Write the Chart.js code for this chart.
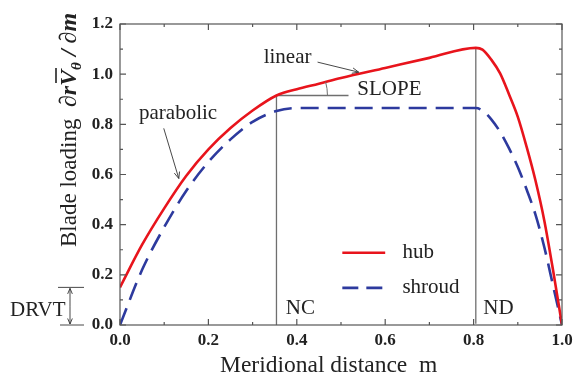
<!DOCTYPE html>
<html>
<head>
<meta charset="utf-8">
<script src="https://cdn.jsdelivr.net/npm/chart.js@4/dist/chart.umd.min.js"></script>
<style>
  html, body { margin: 0; padding: 0; background: #fff; }
  canvas { display: block; }
</style>
</head>
<body>
<canvas id="chart" width="574" height="378"></canvas>
<script>
// hub loading (red, solid)
const mHub = [0, 0.05, 0.1, 0.15, 0.2, 0.25, 0.3, 0.354, 0.4, 0.45, 0.5, 0.6, 0.7, 0.805,
              0.82, 0.84, 0.86, 0.88, 0.9, 0.92, 0.94, 0.96, 0.98, 1.0];
const hubLoad = [0.15, 0.32, 0.465, 0.595, 0.70, 0.785, 0.855, 0.915, 0.94, 0.962, 0.985, 1.025, 1.065, 1.105,
                 1.098, 1.058, 1.003, 0.92, 0.83, 0.71, 0.576, 0.416, 0.216, 0.0];

// shroud loading (blue, dashed)
const mShroud = [0, 0.05, 0.1, 0.15, 0.2, 0.25, 0.3, 0.354, 0.4, 0.5, 0.6, 0.7, 0.805,
                 0.82, 0.84, 0.86, 0.88, 0.9, 0.92, 0.94, 0.96, 0.98, 1.0];
const shroudLoad = [0, 0.22, 0.39, 0.535, 0.65, 0.74, 0.81, 0.853, 0.865, 0.865, 0.865, 0.865, 0.865,
                    0.855, 0.82, 0.77, 0.705, 0.63, 0.54, 0.44, 0.31, 0.155, 0.0];

// marker positions
const NC = 0.354;
const ND = 0.805;
const slopeEnd = 0.517;
const DRVT = 0.15;

const xRange = [0, 1.0];
const yRange = [0, 1.2];

const SERIF = '"Liberation Serif", "Times New Roman", serif';
const RED = '#e8141c';
const BLUE = '#2d3a9e';
const GRAY = '#6f6f6f';
const AXIS = '#555555';

function pts(xs, ys) {
  return xs.map((x, i) => ({ x: x, y: ys[i] }));
}

function arrow(ctx, x1, y1, x2, y2, head) {
  const a = Math.atan2(y2 - y1, x2 - x1);
  ctx.beginPath();
  ctx.moveTo(x1, y1);
  ctx.lineTo(x2, y2);
  ctx.moveTo(x2 - head * Math.cos(a - 0.4), y2 - head * Math.sin(a - 0.4));
  ctx.lineTo(x2, y2);
  ctx.lineTo(x2 - head * Math.cos(a + 0.4), y2 - head * Math.sin(a + 0.4));
  ctx.stroke();
}

// frame, inward ticks, annotations, legend, axis titles
const decor = {
  id: 'decor',
  afterDraw(chart) {
    const ctx = chart.ctx;
    const xs = chart.scales.x;
    const ys = chart.scales.y;
    const a = chart.chartArea;
    const X = v => xs.getPixelForValue(v);
    const Y = v => ys.getPixelForValue(v);

    ctx.save();
    // frame
    ctx.strokeStyle = AXIS;
    ctx.lineWidth = 1.2;
    ctx.strokeRect(a.left, a.top, a.right - a.left, a.bottom - a.top);

    // ticks
    ctx.beginPath();
    for (let i = 0; i <= 10; i++) {
      const v = i / 10;
      const len = i % 2 === 0 ? 6 : 3;
      const px = X(v);
      ctx.moveTo(px, a.bottom); ctx.lineTo(px, a.bottom - len);
      ctx.moveTo(px, a.top); ctx.lineTo(px, a.top + len);
    }
    for (let i = 0; i <= 12; i++) {
      const v = i / 10;
      const len = i % 2 === 0 ? 6 : 3;
      const py = Y(v);
      ctx.moveTo(a.left, py); ctx.lineTo(a.left + len, py);
      ctx.moveTo(a.right, py); ctx.lineTo(a.right - len, py);
    }
    ctx.stroke();

    // slope arc
    ctx.strokeStyle = GRAY;
    ctx.lineWidth = 1;
    const cx = X(NC), cy = Y(hubLoad[7]);
    const ang = Math.atan2(Y(hubLoad[7]) - Y(hubLoad[9]), X(mHub[9]) - X(NC));
    ctx.beginPath();
    ctx.arc(cx, cy, 51, -ang, 0);
    ctx.stroke();

    // arrows
    ctx.strokeStyle = '#333';
    ctx.lineWidth = 0.9;
    arrow(ctx, X(0.447), Y(1.048), X(0.540), Y(1.008), 7);
    arrow(ctx, X(0.099), Y(0.784), X(0.133), Y(0.584), 7);

    // DRVT dimension
    const dx = 70;
    ctx.beginPath();
    ctx.moveTo(58, Y(DRVT)); ctx.lineTo(84, Y(DRVT));
    ctx.moveTo(60, Y(0)); ctx.lineTo(84, Y(0));
    ctx.stroke();
    arrow(ctx, dx, (Y(DRVT) + Y(0)) / 2, dx, Y(DRVT) + 1, 6);
    arrow(ctx, dx, (Y(DRVT) + Y(0)) / 2, dx, Y(0) - 1, 6);

    // texts
    ctx.fillStyle = '#222';
    ctx.font = '21px ' + SERIF;
    ctx.textBaseline = 'middle';
    ctx.textAlign = 'left';
    ctx.fillText('linear', X(0.325), Y(1.068));
    ctx.fillText('SLOPE', X(0.537), Y(0.94));
    ctx.fillText('parabolic', X(0.043), Y(0.844));
    ctx.fillText('NC', X(0.375), Y(0.064));
    ctx.fillText('ND', X(0.822), Y(0.064));
    ctx.fillText('DRVT', 10, 310);

    // legend
    const lx0 = X(0.503), lx1 = X(0.60), tx = X(0.639);
    chart.data.datasets.slice(0, 2).forEach((ds, i) => {
      const ly = Y(i === 0 ? 0.288 : 0.148);
      ctx.strokeStyle = ds.borderColor;
      ctx.lineWidth = ds.borderWidth;
      ctx.setLineDash(i === 0 ? [] : [16, 8]);
      ctx.beginPath();
      ctx.moveTo(lx0, ly); ctx.lineTo(lx1, ly);
      ctx.stroke();
      ctx.setLineDash([]);
      ctx.fillText(ds.label, tx, ly);
    });

    // x axis title
    ctx.font = '23.5px ' + SERIF;
    ctx.textBaseline = 'alphabetic';
    ctx.fillText('Meridional distance  m', 220, 372);

    // y axis title
    ctx.translate(76, 247);
    ctx.rotate(-Math.PI / 2);
    let x = 0;
    const seg = (t, font, dy) => {
      ctx.font = font;
      ctx.fillText(t, x, dy || 0);
      const w = ctx.measureText(t).width;
      x += w;
      return w;
    };
    seg('Blade loading  ', '23px ' + SERIF);
    const bi = 'italic bold 24px ' + SERIF;
    seg('\u2202r', bi);
    const vx = x;
    const vw = seg('V', bi);
    ctx.lineWidth = 1.6;
    ctx.strokeStyle = '#222';
    ctx.beginPath();
    ctx.moveTo(vx + 3, -20); ctx.lineTo(vx + vw + 2, -20);
    ctx.stroke();
    seg('\u03b8', 'italic bold 15px ' + SERIF, 5);
    seg(' / \u2202m', bi);
    ctx.restore();
  }
};

new Chart(document.getElementById('chart'), {
  type: 'line',
  data: {
    datasets: [
      {
        label: 'hub',
        data: pts(mHub, hubLoad),
        borderColor: RED,
        borderWidth: 2.6,
        pointRadius: 0,
        cubicInterpolationMode: 'monotone'
      },
      {
        label: 'shroud',
        data: pts(mShroud, shroudLoad),
        borderColor: BLUE,
        borderWidth: 2.6,
        borderDash: [18, 9],
        pointRadius: 0,
        cubicInterpolationMode: 'monotone'
      },
      {
        label: 'NC',
        data: [{ x: NC, y: 0 }, { x: NC, y: hubLoad[7] }, { x: slopeEnd, y: hubLoad[7] }],
        borderColor: GRAY,
        borderWidth: 1.3,
        pointRadius: 0
      },
      {
        label: 'ND',
        data: [{ x: ND, y: 0.005 }, { x: ND, y: hubLoad[13] }],
        borderColor: GRAY,
        borderWidth: 1.3,
        pointRadius: 0
      }
    ]
  },
  options: {
    responsive: false,
    animation: false,
    devicePixelRatio: 1,
    layout: { padding: { left: 0, right: 12, top: 24, bottom: 0 } },
    plugins: { legend: { display: false }, tooltip: { enabled: false } },
    scales: {
      x: {
        type: 'linear',
        min: xRange[0],
        max: xRange[1],
        afterFit: s => { s.height = 53; s.paddingLeft = 0; s.paddingRight = 0; },
        grid: { display: false, drawTicks: false },
        border: { display: false },
        ticks: {
          stepSize: 0.2,
          padding: 5,
          color: '#222',
          font: { family: SERIF, size: 17, weight: 'bold' },
          callback: v => v.toFixed(1)
        }
      },
      y: {
        min: yRange[0],
        max: yRange[1],
        afterFit: s => { s.width = 120; s.paddingTop = 0; s.paddingBottom = 0; },
        grid: { display: false, drawTicks: false },
        border: { display: false },
        ticks: {
          stepSize: 0.2,
          padding: 7,
          color: '#222',
          font: { family: SERIF, size: 17, weight: 'bold' },
          callback: v => v.toFixed(1)
        }
      }
    }
  },
  plugins: [decor]
});
</script>
</body>
</html>
